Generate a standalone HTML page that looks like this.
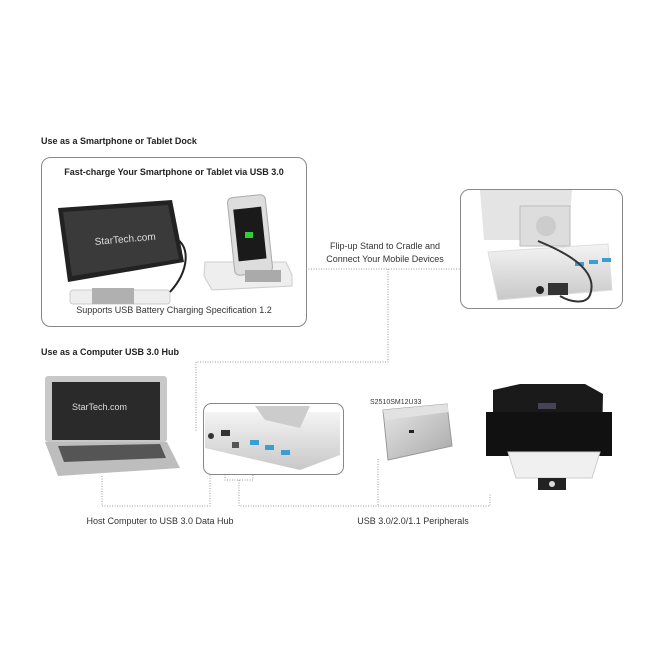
<!DOCTYPE html>
<html><head><meta charset="utf-8"><style>
html,body{margin:0;padding:0;background:#fff;}
body{width:662px;height:662px;position:relative;overflow:hidden;font-family:"Liberation Sans",sans-serif;color:#333;}
.t{position:absolute;font-size:9px;white-space:nowrap;}
.b{font-weight:bold;color:#222;}
svg{position:absolute;left:0;top:0;}
</style></head><body>
<svg width="662" height="662" viewBox="0 0 662 662">
<defs>
<linearGradient id="g1" x1="0" y1="0" x2="0" y2="1"><stop offset="0" stop-color="#f4f4f4"/><stop offset="1" stop-color="#c8c8c8"/></linearGradient>
<linearGradient id="g2" x1="0" y1="0" x2="1" y2="1"><stop offset="0" stop-color="#e8e8e8"/><stop offset="1" stop-color="#a8a8a8"/></linearGradient>
</defs>
<!-- boxes -->
<rect x="41.5" y="157.5" width="265" height="169" rx="9" fill="#fff" stroke="#888" stroke-width="1"/>
<rect x="460.5" y="189.5" width="162" height="119" rx="9" fill="#fff" stroke="#888" stroke-width="1"/>
<!-- dotted connectors -->
<g fill="none" stroke="#999" stroke-width="1" stroke-dasharray="1,1.5">
<path d="M306 269 H460"/>
<path d="M388 269 V362 H196 V432"/>
<path d="M102 476 V506 H210 V452"/>
<path d="M225 452 V480 H253 V452"/>
<path d="M239 480 V506 H490 V493"/>
<path d="M378 459 V506"/>
</g>
<!-- tablet -->
<g>
<path d="M58 208 L172 200 L184 262 L68 282 Z" fill="#222"/>
<path d="M63 212 L168 205 L179 259 L72 276 Z" fill="#3a3a3a"/>
<text x="95" y="245" font-family="Liberation Sans" font-size="10" fill="#ddd" transform="rotate(-5 95 245)">StarTech.com</text>
<rect x="70" y="290" width="100" height="14" rx="3" fill="#eee" stroke="#ccc"/>
<rect x="92" y="288" width="42" height="16" fill="#b0b0b0"/>
<path d="M175 238 C190 245 190 270 170 292" stroke="#222" stroke-width="2" fill="none"/>
</g>
<!-- phone dock -->
<g>
<path d="M205 262 L286 262 L292 275 L292 286 L212 290 L204 276 Z" fill="#eee" stroke="#ccc"/>
<rect x="231" y="196" width="38" height="78" rx="5" fill="#ddd" stroke="#aaa" transform="rotate(-6 250 235)"/>
<rect x="236" y="208" width="28" height="52" fill="#1a1a1a" transform="rotate(-6 250 235)"/>
<rect x="245" y="232" width="8" height="6" fill="#3c3"/>
<rect x="245" y="270" width="36" height="12" fill="#aaa"/>
</g>
<!-- right box image -->
<g>
<path d="M480 190 L572 190 L568 240 L484 240 Z" fill="#e4e4e4"/>
<rect x="520" y="206" width="50" height="40" fill="#ddd" stroke="#bbb"/>
<circle cx="546" cy="226" r="10" fill="#ccc"/>
<path d="M488 252 L608 244 L612 290 L498 300 Z" fill="url(#g1)" stroke="#ddd"/>
<rect x="575" y="262" width="9" height="4" fill="#3a9fd0"/>
<rect x="589" y="260" width="9" height="4" fill="#3a9fd0"/>
<rect x="602" y="258" width="9" height="4" fill="#3a9fd0"/>
<rect x="548" y="283" width="20" height="12" fill="#333"/>
<circle cx="540" cy="290" r="4" fill="#222"/>
<path d="M538 241 C560 250 600 268 590 295 C586 305 570 302 560 296" stroke="#333" stroke-width="2" fill="none"/>
</g>
<!-- laptop -->
<g>
<rect x="45" y="376" width="122" height="66" rx="3" fill="#c8c8c8"/>
<rect x="52" y="382" width="108" height="58" fill="#2a2a2a"/>
<text x="72" y="410" font-family="Liberation Sans" font-size="9" fill="#ddd">StarTech.com</text>
<path d="M45 442 L167 442 L180 468 L58 476 Z" fill="#bdbdbd"/>
<path d="M58 446 L160 444 L166 458 L64 462 Z" fill="#555"/>
</g>
<!-- hub image box -->
<rect x="203.5" y="403.5" width="140" height="71" rx="8" fill="#fff" stroke="#888"/>
<path d="M205 412 L340 412 L340 455 L300 470 L205 448 Z" fill="url(#g1)"/>
<path d="M255 406 L310 406 L300 428 L265 420 Z" fill="#ccc"/>
<circle cx="211" cy="436" r="3" fill="#333"/>
<rect x="221" y="430" width="9" height="6" fill="#333"/>
<rect x="232" y="442" width="7" height="6" fill="#555"/>
<rect x="250" y="440" width="9" height="5" fill="#3a9fd0"/>
<rect x="265" y="445" width="9" height="5" fill="#3a9fd0"/>
<rect x="281" y="450" width="9" height="5" fill="#3a9fd0"/>
<!-- drive -->
<g>
<path d="M383 410 L447 404 L452 446 L388 460 Z" fill="url(#g2)" stroke="#999"/>
<path d="M383 410 L447 404 L449 412 L385 420 Z" fill="#e2e2e2"/>
<rect x="409" y="430" width="5" height="3" fill="#222"/>
</g>
<!-- printer -->
<g>
<path d="M493 390 L520 384 L585 384 L603 394 L602 440 L493 440 Z" fill="#1a1a1a"/>
<path d="M486 412 L612 412 L612 456 L486 456 Z" fill="#111"/>
<rect x="538" y="403" width="18" height="6" fill="#445"/>
<path d="M508 452 L600 452 L592 478 L516 478 Z" fill="#f0f0f0" stroke="#ccc"/>
<rect x="538" y="478" width="28" height="12" fill="#222"/>
<circle cx="552" cy="484" r="3" fill="#ddd"/>
</g>
</svg>
<div class="t b" style="left:41px;top:136px;">Use as a Smartphone or Tablet Dock</div>
<div class="t b" style="left:41px;top:347px;">Use as a Computer USB 3.0 Hub</div>
<div class="t b" style="left:0;width:348px;text-align:center;top:167px;">Fast-charge Your Smartphone or Tablet via USB 3.0</div>
<div class="t" style="left:0;width:348px;text-align:center;top:305px;">Supports USB Battery Charging Specification 1.2</div>
<div class="t" style="left:310px;width:150px;text-align:center;top:240px;line-height:13px;">Flip-up Stand to Cradle and<br>Connect Your Mobile Devices</div>
<div class="t" style="left:60px;width:200px;text-align:center;top:516px;">Host Computer to USB 3.0 Data Hub</div>
<div class="t" style="left:313px;width:200px;text-align:center;top:516px;">USB 3.0/2.0/1.1 Peripherals</div>
<div class="t" style="left:370px;top:399px;font-size:7px;">S2510SM12U33</div>
</body></html>
